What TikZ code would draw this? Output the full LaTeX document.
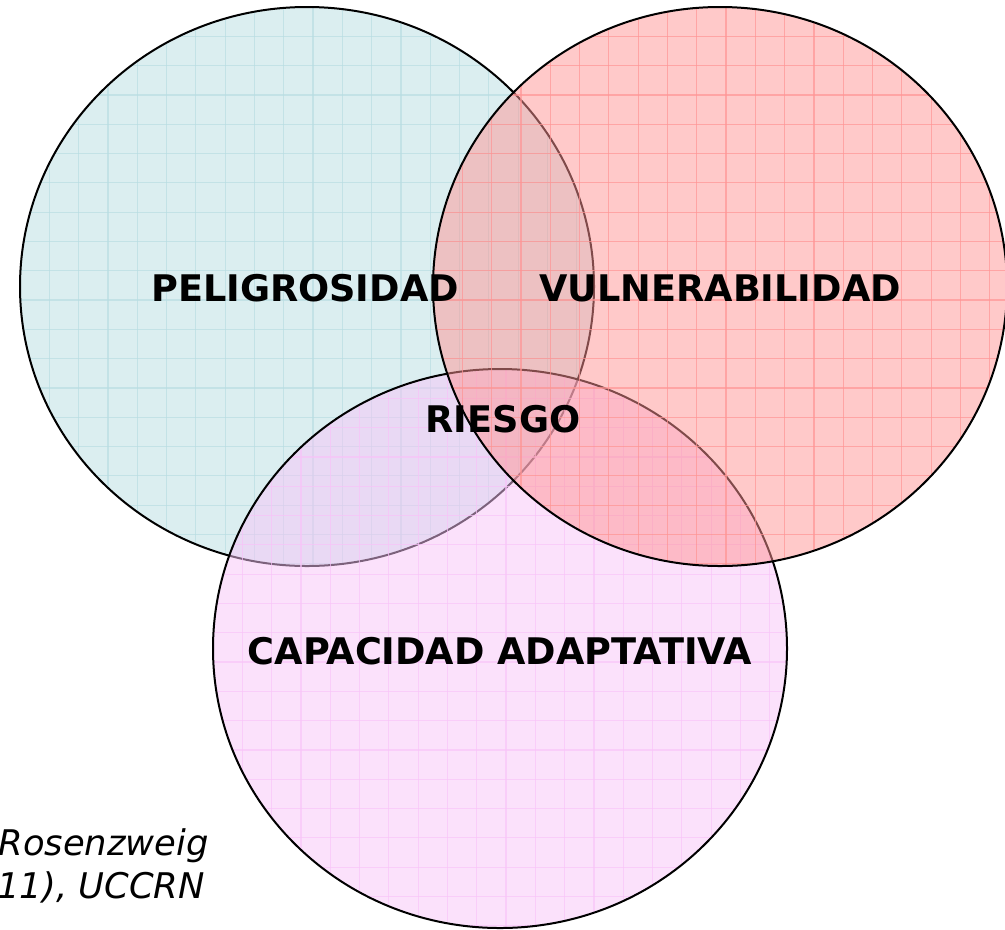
\documentclass[tikz,border=0pt]{standalone}
\usepackage{fontspec}
\setmainfont{DejaVu Sans}
\definecolor{peligro}{HTML}{B8DDE2}
\definecolor{capacidad}{HTML}{F8C4F8}
\definecolor{vulnera}{HTML}{FF9494}

\begin{document}
\begin{tikzpicture}[x=0.75pt,y=-0.75pt,
    borde/.style={draw=black, line width=1.5pt},
    rejilla/.style={line width=0.9pt, draw opacity=0.7},
    etiqueta/.style={font=\bfseries\fontsize{27.5}{33}\selectfont, inner sep=0pt},
    fuente/.style={font=\itshape\fontsize{26.5}{32}\selectfont, inner sep=0pt}]
    \useasboundingbox (0,0) rectangle (1005,929);

    % the three sets, drawn left, bottom, right
    \foreach \cx/\cy/\col in {307/286.5/peligro, 500/648.5/capacidad, 720/286.5/vulnera} {
        \begin{scope}
            \clip (\cx,\cy) ellipse [x radius=287, y radius=279.5];
            \fill[\col, fill opacity=0.5] (\cx-287,\cy-279.5) rectangle (\cx+287,\cy+279.5);
            \foreach \k in {1,...,19} {
                \draw[rejilla, \col] (\cx-287+29.3*\k, \cy-279.5) -- (\cx-287+29.3*\k, \cy+279.5);
                \draw[rejilla, \col] (\cx-287, \cy-279.5+29.3*\k) -- (\cx+287, \cy-279.5+29.3*\k);
            }
        \end{scope}
        \draw[borde] (\cx,\cy) ellipse [x radius=287, y radius=279.5];
    }

    \node[etiqueta] (peligrosidad) at (305,288.5) {PELIGROSIDAD};
    \node[etiqueta] (vulnerabilidad) at (720,288.5) {VULNERABILIDAD};
    \node[etiqueta] (riesgo) at (503,419) {RIESGO};
    \node[etiqueta] (capacidad) at (500,651) {CAPACIDAD ADAPTATIVA};

    % source, cut at the left edge
    \begin{scope}
        \clip (0,0) rectangle (1005,929);
        \node[fuente, anchor=base east] (autor) at (209,855) {Rosenzweig};
        \node[fuente, anchor=base east] (red) at (205,898) {11), UCCRN};
    \end{scope}
\end{tikzpicture}
\end{document}
